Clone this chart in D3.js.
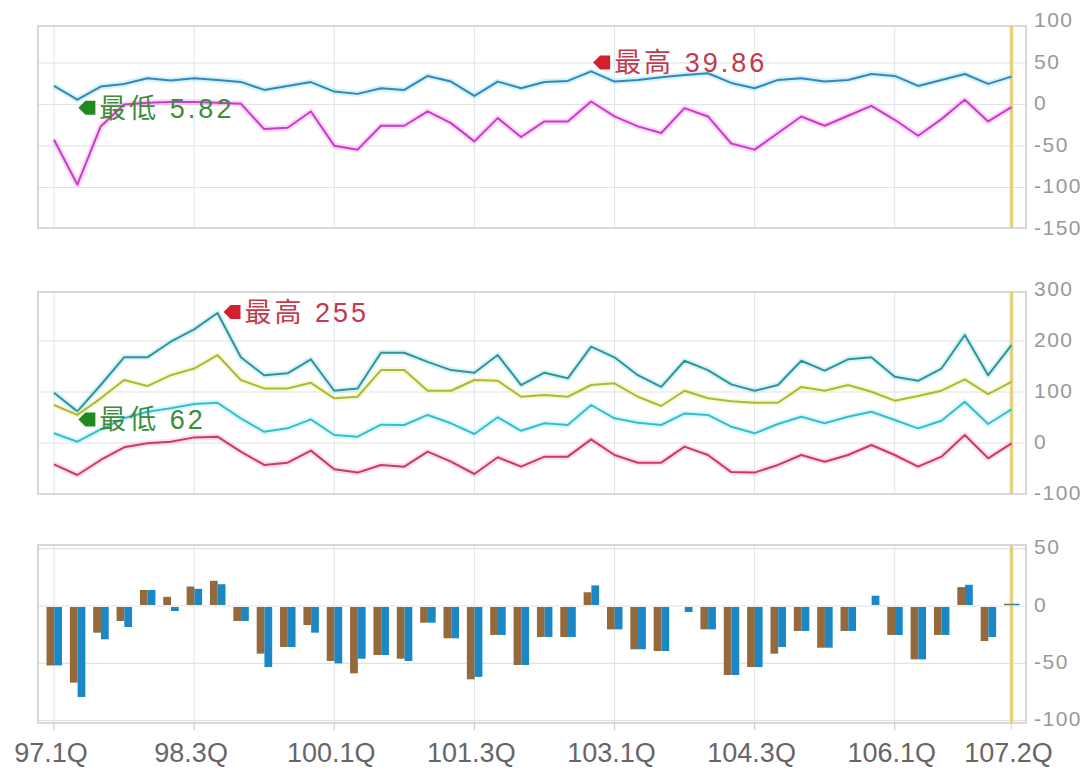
<!DOCTYPE html>
<html>
<head>
<meta charset="utf-8">
<script src="https://cdn.jsdelivr.net/npm/d3@7"></script>
<style>
  body { margin: 0; background: #fff; }
  text { font-family: "Liberation Sans", Arial, "Noto Sans CJK TC", sans-serif; }
</style>
</head>
<body>
<div id="visualization"></div>
<script>
// Quarters (categories)
const quarters = ["97.1Q","97.2Q","97.3Q","97.4Q","98.1Q","98.2Q","98.3Q","98.4Q","99.1Q","99.2Q","99.3Q","99.4Q",
  "100.1Q","100.2Q","100.3Q","100.4Q","101.1Q","101.2Q","101.3Q","101.4Q","102.1Q","102.2Q","102.3Q","102.4Q",
  "103.1Q","103.2Q","103.3Q","103.4Q","104.1Q","104.2Q","104.3Q","104.4Q","105.1Q","105.2Q","105.3Q","105.4Q",
  "106.1Q","106.2Q","106.3Q","106.4Q","107.1Q","107.2Q"];
const xTickLabels = ["97.1Q","98.3Q","100.1Q","101.3Q","103.1Q","104.3Q","106.1Q","107.2Q"];

// Panel 1 series
const topBlue = [22.4, 5.82, 21.6, 24.8, 31.6, 28.8, 31.6, 29.6, 27.2, 17.6, 22.4, 27, 15.6, 12.8, 19.6, 17.6, 34.4, 27.6, 10.4, 27.6, 19.6, 27.2, 28.4, 39.86, 27.6, 29.6, 32.8, 35.6, 37.6, 26, 19.6, 29.6, 31.6, 27.6, 29.6, 36.8, 34.4, 22.4, 29.6, 36.8, 24.8, 33.6];
const topMagenta = [-42.5, -96.4, -26.4, 0, 2, 3, 3, 2, 1, -29.6, -28, -8.4, -49.6, -54.4, -25.6, -25.6, -8.4, -22.4, -44.4, -16.4, -39.2, -20.4, -20.4, 3.6, -14.4, -26.4, -34.4, -4.4, -14.4, -47, -54.4, -34.4, -14.4, -25.6, -13.6, -1.6, -18.4, -37.6, -17.6, 5.6, -20.4, -3.2];
const topTicks = [100, 50, 0, -50, -100, -150];

// Panel 2 series
const midTeal = [98.6, 62, 113.7, 168, 168, 198.6, 222.8, 255, 168, 133, 136.6, 164, 102.5, 107, 177, 177, 159, 143, 137.8, 172.5, 113.7, 137.8, 126.8, 188.8, 168, 133, 110, 161.3, 143, 115, 102.5, 113.7, 161.3, 141.8, 164, 168, 130, 122, 146, 211.7, 133, 192];
const midYellow = [74.5, 55, 87.6, 123.5, 111.7, 133, 146, 172.5, 123.5, 107, 107, 118, 87.6, 90.7, 143, 143, 102.5, 102.5, 123.5, 122, 90.7, 94, 90.7, 113.7, 117, 90.7, 72.5, 102.5, 87.6, 82, 79, 79, 110, 102.5, 113.7, 100.6, 83, 92, 102.5, 124.8, 96, 120];
const midCyan = [19, 2.5, 26.8, 48.4, 61.4, 68, 76.4, 79, 48.4, 22, 28.7, 46.4, 15.7, 12.4, 36, 35.3, 55, 38.6, 17.6, 50.4, 24, 38.6, 35.3, 74.5, 48.4, 39.8, 35.3, 58, 55, 32, 19, 37.2, 51.6, 38.6, 51.6, 61.4, 45, 28.7, 43.7, 81, 37.2, 66];
const midCrimson = [-41.8, -62.7, -33.3, -8.5, -0.7, 2.5, 11, 12.4, -17, -43, -38.6, -15, -51.6, -58, -43, -46.4, -17, -36.6, -60.8, -28, -46.4, -26.8, -26.8, 7.2, -23.5, -38.6, -38.6, -7.2, -23.5, -57, -58, -43, -23.5, -36.6, -23.5, -4, -23.5, -46.4, -26.8, 15.7, -30, -0.7];
const midTicks = [300, 200, 100, 0, -100];

// Panel 3 bars
const barBrown = [-51, -66, -22.4, -12.2, 14, 8, 17, 22, -12.2, -40.7, -34.9, -15.7, -47.1, -57.9, -41.9, -45.1, -13.7, -27.3, -63.1, -24.4, -50.6, -26.2, -26.2, 12, -19.5, -36.9, -38.4, 0, -19.5, -59.3, -52.4, -40.7, -20.9, -35.5, -20.9, 0, -24.4, -45.7, -24.4, 16.5, -29.7, 2];
const barBlue = [-51, -78.5, -28.2, -17.5, 14, -3.5, 15, 19, -12.2, -52.4, -34.9, -22.4, -49.2, -45.1, -41.9, -47.1, -13.7, -27.3, -61, -24.4, -50.6, -26.2, -26.2, 18, -19.5, -36.9, -38.4, -4.4, -19.5, -59.3, -52.4, -34.9, -20.9, -35.5, -20.9, 9, -24.4, -45.7, -24.4, 18.5, -26.2, 2];
const botTicks = [50, 0, -50, -100];

const W = 1091, H = 772;
const boxLeft = 38, boxRight = 1026;
const lastQ = quarters[quarters.length - 1];

const svg = d3.select("#visualization")
  .append("svg")
    .attr("width", W)
    .attr("height", H);

const x = d3.scalePoint()
  .domain(quarters)
  .range([54, 1011.5]);

// draw frame, grid, right-side ticks for one panel
function drawFrame(y, top, bottom, ticks) {
    const g = svg.append("g");
    // vertical grid
    g.selectAll(".vg")
      .data(xTickLabels.slice(0, -1))
      .enter().append("line")
        .attr("x1", d => x(d)).attr("x2", d => x(d))
        .attr("y1", top).attr("y2", bottom)
        .attr("stroke", "#dde5ec").attr("stroke-width", 1);
    // horizontal grid
    g.selectAll(".hg")
      .data(ticks.filter(t => y(t) > top + 2 && y(t) < bottom - 2))
      .enter().append("line")
        .attr("x1", boxLeft).attr("x2", boxRight)
        .attr("y1", d => y(d)).attr("y2", d => y(d))
        .attr("stroke", "#e2e2e2").attr("stroke-width", 1.2);
    // box
    g.append("rect")
      .attr("x", boxLeft).attr("y", top)
      .attr("width", boxRight - boxLeft).attr("height", bottom - top)
      .attr("fill", "none").attr("stroke", "#cccccc").attr("stroke-width", 1.5);
    // last-quarter marker
    g.append("line")
      .attr("x1", x(lastQ)).attr("x2", x(lastQ))
      .attr("y1", top).attr("y2", bottom)
      .attr("stroke", "#f4e8b0").attr("stroke-width", 4);
    g.append("line")
      .attr("x1", x(lastQ)).attr("x2", x(lastQ))
      .attr("y1", top).attr("y2", bottom)
      .attr("stroke", "#e2c95e").attr("stroke-width", 2);
    // right axis labels
    g.selectAll(".tl")
      .data(ticks)
      .enter().append("text")
        .attr("x", 1034)
        .attr("y", d => y(d) - 2)
        .attr("dominant-baseline", "central")
        .attr("font-size", "21px")
        .attr("letter-spacing", "1.5px")
        .attr("fill", "#999")
        .text(d => d);
}

function drawLine(values, y, color, glow) {
    const line = d3.line()
      .x((d, i) => x(quarters[i]))
      .y(d => y(d));
    svg.append("path")
      .datum(values)
      .attr("d", line)
      .attr("fill", "none")
      .attr("stroke", glow)
      .attr("stroke-opacity", 0.35)
      .attr("stroke-width", 6)
      .attr("stroke-linejoin", "round");
    svg.append("path")
      .datum(values)
      .attr("d", line)
      .attr("fill", "none")
      .attr("stroke", color)
      .attr("stroke-width", 2)
      .attr("stroke-linejoin", "round");
}

// arrow + label for max / min of a series
function markExtreme(values, y, kind, dx, dy) {
    const v = kind === "max" ? d3.max(values) : d3.min(values);
    const i = values.indexOf(v);
    const color = kind === "max" ? "#d41f2f" : "#1f8a1f";
    const textColor = kind === "max" ? "#c23a4c" : "#3c8c3c";
    const tx = x(quarters[i]) + dx, ty = y(v) + dy;
    svg.append("path")
      .attr("d", `M${tx},${ty} L${tx + 7},${ty - 7} L${tx + 17},${ty - 7} L${tx + 17},${ty + 7} L${tx + 7},${ty + 7} Z`)
      .attr("fill", color);
    svg.append("text")
      .attr("x", tx + 21)
      .attr("y", ty + 1)
      .attr("dominant-baseline", "central")
      .attr("font-size", "27px")
      .attr("letter-spacing", "3px")
      .attr("fill", textColor)
      .text((kind === "max" ? "最高 " : "最低 ") + v);
}

// Panel 1
const y1 = d3.scaleLinear().domain([-150, 100]).range([229, 21.5]);
drawFrame(y1, 26, 228, topTicks);
drawLine(topBlue, y1, "#3c84b6", "#6fe0f4");
drawLine(topMagenta, y1, "#c93ccb", "#f58cf0");
markExtreme(topBlue, y1, "min", 1, 8);
markExtreme(topBlue, y1, "max", 2, -9);

// Panel 2
const y2 = d3.scaleLinear().domain([-100, 300]).range([494, 290]);
drawFrame(y2, 292, 494, midTicks);
drawLine(midTeal, y2, "#3a9098", "#7fe2ea");
drawLine(midYellow, y2, "#a9b83e", "#eef27a");
drawLine(midCyan, y2, "#3bbccb", "#8ff2fa");
drawLine(midCrimson, y2, "#c83a6a", "#f8a0c4");
markExtreme(midTeal, y2, "min", 1, 8);
markExtreme(midTeal, y2, "max", 6, -1);

// Panel 3
const y3 = d3.scaleLinear().domain([-100, 50]).range([720.6, 548.7]);
drawFrame(y3, 545, 723, botTicks);

const sub = d3.scaleBand()
  .domain(["brown", "blue"])
  .range([-7.5, 8]);

const barData = quarters.map((q, i) => ({q: q, brown: barBrown[i], blue: barBlue[i]}));
const groups = svg.append("g").selectAll("g")
  .data(barData)
  .enter().append("g")
    .attr("transform", d => `translate(${x(d.q)},0)`);
groups.selectAll("rect")
  .data(d => ["brown", "blue"].map(k => ({k: k, v: d[k]})))
  .enter().append("rect")
    .attr("x", d => sub(d.k))
    .attr("width", sub.bandwidth())
    .attr("y", d => d.v >= 0 ? y3(d.v) : y3(0) + 1)
    .attr("height", d => Math.max(Math.abs(y3(d.v) - y3(0)) - (d.v >= 0 ? 1 : 0), d.v === 0 ? 0 : 1.5))
    .attr("fill", d => d.k === "brown" ? "#946a3c" : "#1b87c5");

// bottom x axis: small ticks + labels
svg.append("g").selectAll("line")
  .data(xTickLabels)
  .enter().append("line")
    .attr("x1", d => x(d)).attr("x2", d => x(d))
    .attr("y1", 723).attr("y2", 730)
    .attr("stroke", d => d === lastQ ? "#eedc90" : "#cccccc")
    .attr("stroke-width", 1.2);
svg.append("g").selectAll("text")
  .data(xTickLabels)
  .enter().append("text")
    .attr("x", d => x(d) - 3)
    .attr("y", 762)
    .attr("text-anchor", "middle")
    .attr("font-size", "27px")
    .attr("fill", "#666")
    .text(d => d);
</script>
</body>
</html>
